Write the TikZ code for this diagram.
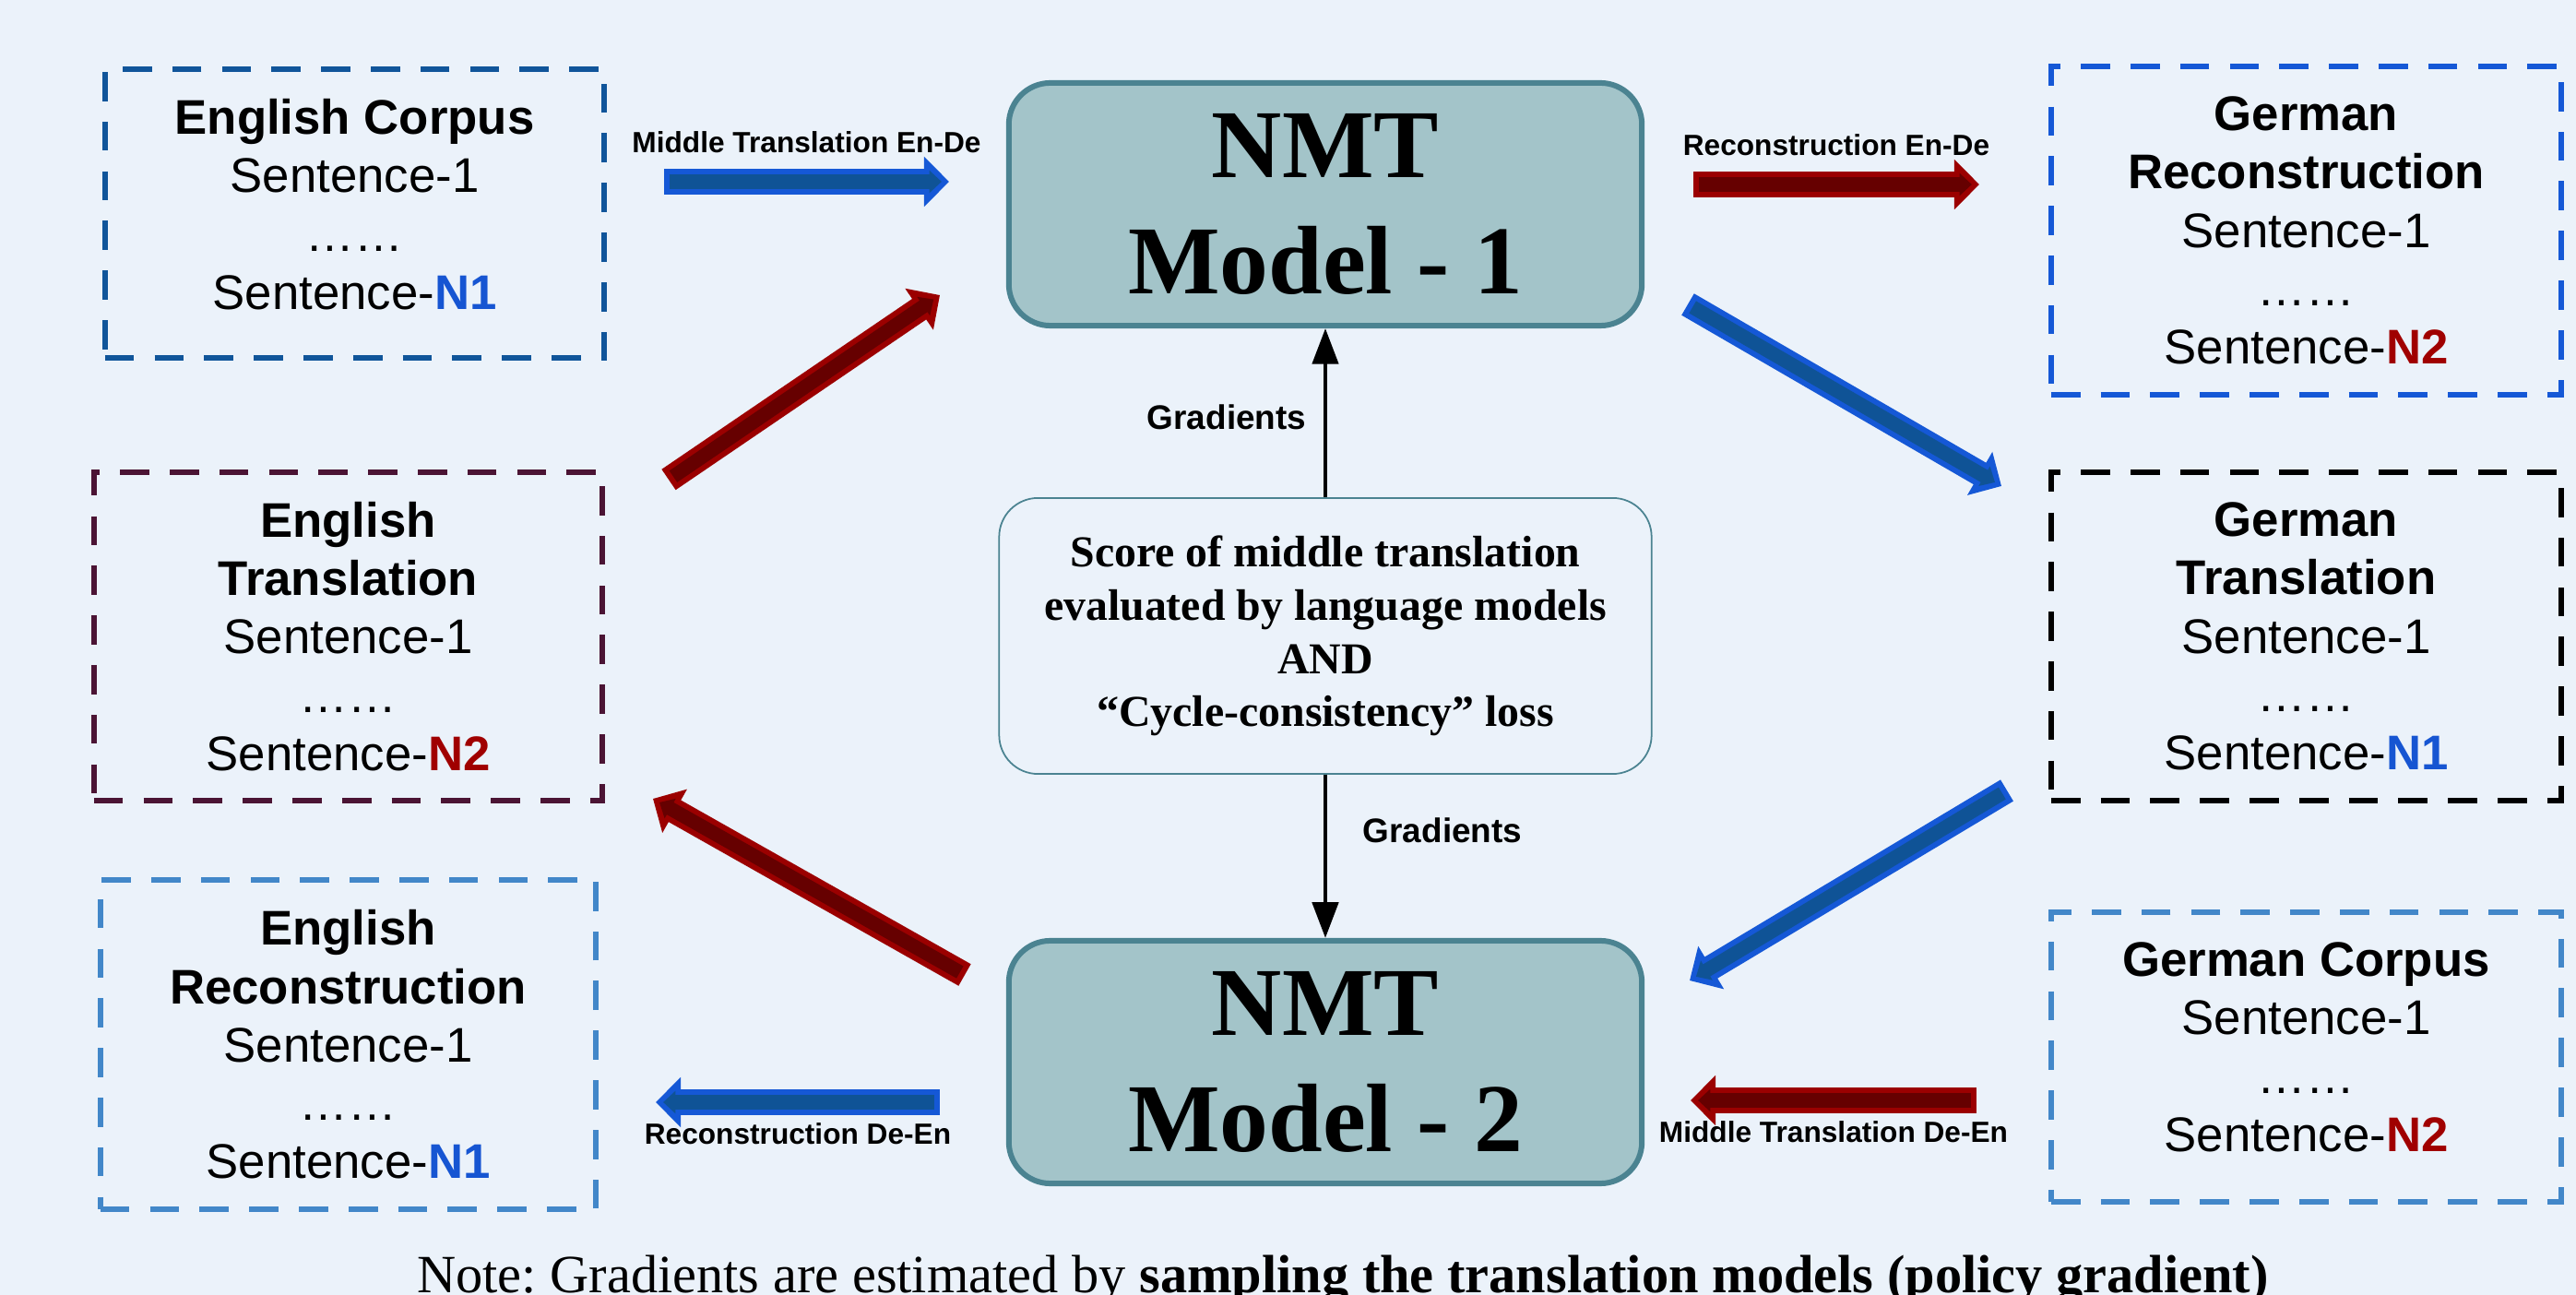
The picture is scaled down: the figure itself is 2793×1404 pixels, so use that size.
\documentclass[tikz,border=0pt]{standalone}
\usepackage{fontspec}
\setmainfont{Liberation Serif}
\setsansfont{Liberation Sans}
\usetikzlibrary{arrows.meta,positioning}

\definecolor{bgcol}{HTML}{EBF2FA}
\definecolor{encorpuscol}{HTML}{10559A}
\definecolor{entranscol}{HTML}{4B1434}
\definecolor{lightbluecol}{HTML}{4287C9}
\definecolor{dereconcol}{HTML}{1558D6}
\definecolor{nbluecol}{HTML}{1655D2}
\definecolor{nredcol}{HTML}{A00000}
\definecolor{blueout}{HTML}{1558D6}
\definecolor{bluein}{HTML}{0F5396}
\definecolor{redout}{HTML}{9B0000}
\definecolor{redin}{HTML}{660000}
\definecolor{nmtfill}{HTML}{A3C4C9}
\definecolor{nmtline}{HTML}{4B8391}

\newcommand{\lastsent}[2]{Sentence-\textbf{\color{#1}#2}}

\tikzset{
  corpus/.style={draw=#1, line width=1.7pt, dash pattern=on 9pt off 6.3pt,
    align=center, inner sep=0pt, font=\sffamily\fontsize{15}{18}\selectfont},
  nmt/.style={draw=nmtline, fill=nmtfill, line width=1.7pt, rounded corners=12.8pt,
    minimum width=6.86cm, minimum height=2.63cm, align=center,
    font=\bfseries\fontsize{30}{36}\selectfont},
  scorebox/.style={draw=nmtline, line width=0.5pt, rounded corners=12pt,
    minimum width=7.07cm, minimum height=2.99cm, align=center,
    font=\bfseries\fontsize{13.6}{16.4}\selectfont},
  fatarrow/.style 2 args={line width=7.7pt, draw=#1,
    -{Triangle[length=7.7pt,width=15pt]},
    postaction={draw=#2, line width=4.3pt, shorten <=1.7pt, shorten >=2.3pt,
      -{Triangle[length=3.8pt,width=6.8pt]}}},
  bluearrow/.style={fatarrow={blueout}{bluein}},
  redarrow/.style={fatarrow={redout}{redin}},
  arrowlabel/.style={inner sep=0pt, outer sep=0pt, font=\sffamily\bfseries\fontsize{9}{11}\selectfont},
  gradarrow/.style={line width=1.2pt, -{Triangle[length=11pt,width=8pt]}},
  gradlabel/.style={inner sep=0pt, font=\sffamily\bfseries\fontsize{10.5}{12}\selectfont}
}

\begin{document}
\begin{tikzpicture}[x=0.01cm, y=-0.01cm]
    \useasboundingbox (0,0) rectangle (2793,1404);
    \fill[bgcol] (0,0) rectangle (2793,1404);

    % English side
    \node[corpus=encorpuscol, minimum width=5.41cm, minimum height=3.13cm, text depth=0.2cm] (encorpus) at (384.5,231.5)
        {\textbf{English Corpus}\\Sentence-1\\……\\\lastsent{nbluecol}{N1}};
    \node[corpus=entranscol, minimum width=5.51cm, minimum height=3.56cm] (entrans) at (377.5,690)
        {\textbf{English}\\\textbf{Translation}\\Sentence-1\\……\\\lastsent{nredcol}{N2}};
    \node[corpus=lightbluecol, minimum width=5.37cm, minimum height=3.57cm] (enrecon) at (377.5,1132.5)
        {\textbf{English}\\\textbf{Reconstruction}\\Sentence-1\\……\\\lastsent{nbluecol}{N1}};

    % German side
    \node[corpus=dereconcol, minimum width=5.53cm, minimum height=3.56cm] (derecon) at (2500.5,250)
        {\textbf{German}\\\textbf{Reconstruction}\\Sentence-1\\……\\\lastsent{nredcol}{N2}};
    \node[corpus=black, minimum width=5.53cm, minimum height=3.56cm] (detrans) at (2500.5,690)
        {\textbf{German}\\\textbf{Translation}\\Sentence-1\\……\\\lastsent{nbluecol}{N1}};
    \node[corpus=lightbluecol, minimum width=5.53cm, minimum height=3.14cm, text depth=0.22cm] (decorpus) at (2500.5,1146)
        {\textbf{German Corpus}\\Sentence-1\\……\\\lastsent{nredcol}{N2}};

    % Models and score
    \node[nmt] (nmt1) at (1437,221.5) {NMT\\Model - 1};
    \node[nmt] (nmt2) at (1437,1151.5) {NMT\\Model - 2};
    \node[scorebox] (score) at (1437,689.5)
        {Score of middle translation\\evaluated by language models\\AND\\``Cycle-consistency'' loss};

    % Gradients
    \draw[gradarrow] (score) -- (nmt1);
    \draw[gradarrow] (score) -- (nmt2);
    \node[gradlabel] (gradup) at (1330,452) {Gradients};
    \node[gradlabel] (graddown) at (1564,900) {Gradients};

    % Arrow ends
    \coordinate (mtendeA) at (720,197);
    \coordinate (mtendeB) at (1029,197);
    \coordinate (entoA) at (725,520);
    \coordinate (entoB) at (1019,320);
    \coordinate (rcendeA) at (1836,200);
    \coordinate (rcendeB) at (2146,200);
    \coordinate (detoA) at (1830,330);
    \coordinate (detoB) at (2170,527);
    \coordinate (defromA) at (2176,857);
    \coordinate (defromB) at (1832,1063);
    \coordinate (mtdeenA) at (2143,1193);
    \coordinate (mtdeenB) at (1833,1193);
    \coordinate (enfromA) at (1046,1057);
    \coordinate (enfromB) at (708,866);
    \coordinate (rcdeenA) at (1019,1195);
    \coordinate (rcdeenB) at (711,1195);

    % Translation arrows
    \draw[bluearrow] (mtendeA) -- (mtendeB) node[midway, above=9pt, arrowlabel] {Middle Translation En-De};
    \draw[redarrow] (entoA) -- (entoB);
    \draw[redarrow] (rcendeA) -- (rcendeB) node[midway, above=9pt, arrowlabel] {Reconstruction En-De};
    \draw[bluearrow] (detoA) -- (detoB);
    \draw[bluearrow] (defromA) -- (defromB);
    \draw[redarrow] (mtdeenA) -- (mtdeenB) node[midway, below=6.5pt, arrowlabel] {Middle Translation De-En};
    \draw[redarrow] (enfromA) -- (enfromB);
    \draw[bluearrow] (rcdeenA) -- (rcdeenB) node[midway, below=6.5pt, arrowlabel] {Reconstruction De-En};

    % Note
    \node[anchor=base, inner sep=0pt, font=\fontsize{16.6}{20}\selectfont] (note) at (1456,1402)
        {Note:\ Gradients are estimated by \textbf{sampling the translation models (policy gradient)}};
\end{tikzpicture}
\end{document}
